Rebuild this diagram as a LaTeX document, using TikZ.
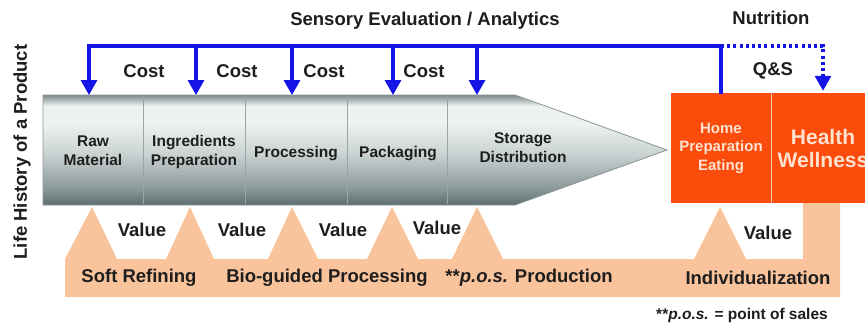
\documentclass[tikz,border=0pt]{standalone}
\usepackage{fontspec}
\setmainfont{Liberation Sans}
\usetikzlibrary{arrows.meta}

\definecolor{flowblue}{HTML}{1414E6}
\definecolor{peach}{HTML}{F9C49C}
\definecolor{homeorange}{HTML}{FC4C0C}
\definecolor{inkdark}{HTML}{1E1E1E}
\definecolor{divgray}{HTML}{9AA6A6}
\definecolor{edgegray}{HTML}{8A9696}
\definecolor{paleorange}{HTML}{FFE2CF}
\definecolor{steelA}{HTML}{5C6F6F}
\definecolor{steelB}{HTML}{8C9A9A}
\definecolor{steelC}{HTML}{C9D1D1}
\definecolor{steelD}{HTML}{EDF1F1}
\definecolor{steelE}{HTML}{7C8A8A}

% vertical metal-like gradient of the process arrow (25bp = bottom, 75bp = top)
\pgfdeclareverticalshading{steel}{100bp}{%
  color(0bp)=(steelA); color(25bp)=(steelA); color(33bp)=(steelB);
  color(48bp)=(steelC); color(62bp)=(steelD); color(70bp)=(steelD);
  color(75bp)=(steelE); color(100bp)=(steelE)}

\tikzset{
  biglabel/.style={font=\fontsize{18.5}{22}\selectfont\bfseries, text=inkdark, inner sep=0pt},
  stagelabel/.style={font=\fontsize{15.5}{19}\selectfont\bfseries, text=inkdark, align=center, inner sep=0pt},
  orangebox/.style={fill=homeorange, draw=none, inner sep=0pt, align=center, text=paleorange},
  flowline/.style={draw=flowblue, line width=3.2pt},
  flowtip/.style={-{Triangle[length=15pt,width=16pt]}},
  dotline/.style={dash pattern=on 3pt off 3.2pt},
}

\begin{document}
\begin{tikzpicture}[x=1pt,y=-1pt]
\clip (0,0) rectangle (865,324);
\fill[white] (0,0) rectangle (865,324);

% value band with its peaks
\fill[peach] (65,297) -- (65,259) -- (92,207) -- (117,259)
  -- (166,259) -- (190,207) -- (214,259)
  -- (268,259) -- (292,207) -- (318,259)
  -- (367,259) -- (392,207) -- (418,259)
  -- (452,259) -- (477,207) -- (503,259)
  -- (694,259) -- (720,207) -- (746,259)
  -- (803,259) -- (803,203) -- (840,203) -- (840,297) -- cycle;

% process arrow
\path[shading=steel, draw=edgegray, line width=0.8pt]
  (43,95) -- (515,95) -- (667,150) -- (515,205) -- (43,205) -- cycle;
\foreach \xd in {143,245,347,447}
  \draw[divgray, line width=0.9pt] (\xd,96) -- (\xd,204);

\node[stagelabel] (raw)  at (93,151)  {Raw\\Material};
\node[stagelabel] (ingr) at (194,152) {Ingredients\\Preparation};
\node[stagelabel] (proc) at (296,154) {Processing};
\node[stagelabel] (pack) at (398,154) {Packaging};
\node[stagelabel] (stor) at (523,148) {Storage\\Distribution};

% consumer boxes
\node[orangebox, minimum width=100pt, minimum height=110pt,
      font=\fontsize{15}{18.5}\selectfont\bfseries] (home) at (721,148)
      {Home\\Preparation\\Eating};
\node[orangebox, minimum width=104pt, minimum height=110pt,
      font=\fontsize{21}{23}\selectfont\bfseries] (health) at (823,148)
      {Health\\Wellness};
\draw[paleorange!80!homeorange, line width=0.9pt] (home.north east) -- (home.south east);

% feedback bus
\coordinate (b1) at (89,46);
\coordinate (b2) at (196,46);
\coordinate (b3) at (292,46);
\coordinate (b4) at (393,46);
\coordinate (b5) at (477,46);
\coordinate (b6) at (721,46);
\coordinate (b7) at (823,46);
\coordinate (t1) at (89,95);
\coordinate (t2) at (196,95);
\coordinate (t3) at (292,95);
\coordinate (t4) at (393,95);
\coordinate (t5) at (477,95);

\draw[flowline, line cap=rect] (b1) -- (b6) -- (home.north);
\foreach \i in {1,...,5}
  \draw[flowline, flowtip] (b\i) -- (t\i);
\draw[flowline, dotline, flowtip, shorten >=2pt] (b6) -- (b7) -- (health.north);

% labels
\node[biglabel] (sens) at (425,21) {Sensory Evaluation / Analytics};
\node[biglabel] (nutr) at (771,18) {Nutrition};
\node[biglabel] (qs)   at (773,71) {Q\&S};
\foreach \xc/\nm in {144/c1,237/c2,324/c3,424/c4}
  \node[biglabel] (\nm) at (\xc,71) {Cost};
\foreach \xc/\yc/\nm in {142/230/v1,242/230/v2,343/230/v3,437/228/v4,768/233/v5}
  \node[biglabel] (\nm) at (\xc,\yc) {Value};

\node[biglabel] (soft)  at (139,278) {Soft Refining};
\node[biglabel] (bio)   at (327,278) {Bio-guided Processing};
\node[biglabel] (pos)   at (529,278) {**\textit{p.o.s.} Production};
\node[biglabel] (indiv) at (758,278) {Individualization};

\node[biglabel, font=\fontsize{15.5}{18}\selectfont\bfseries] (foot) at (742,315)
  {**\textit{p.o.s.} = point of sales};

\node[biglabel, rotate=90] (life) at (22,152) {Life History of a Product};
\end{tikzpicture}
\end{document}
